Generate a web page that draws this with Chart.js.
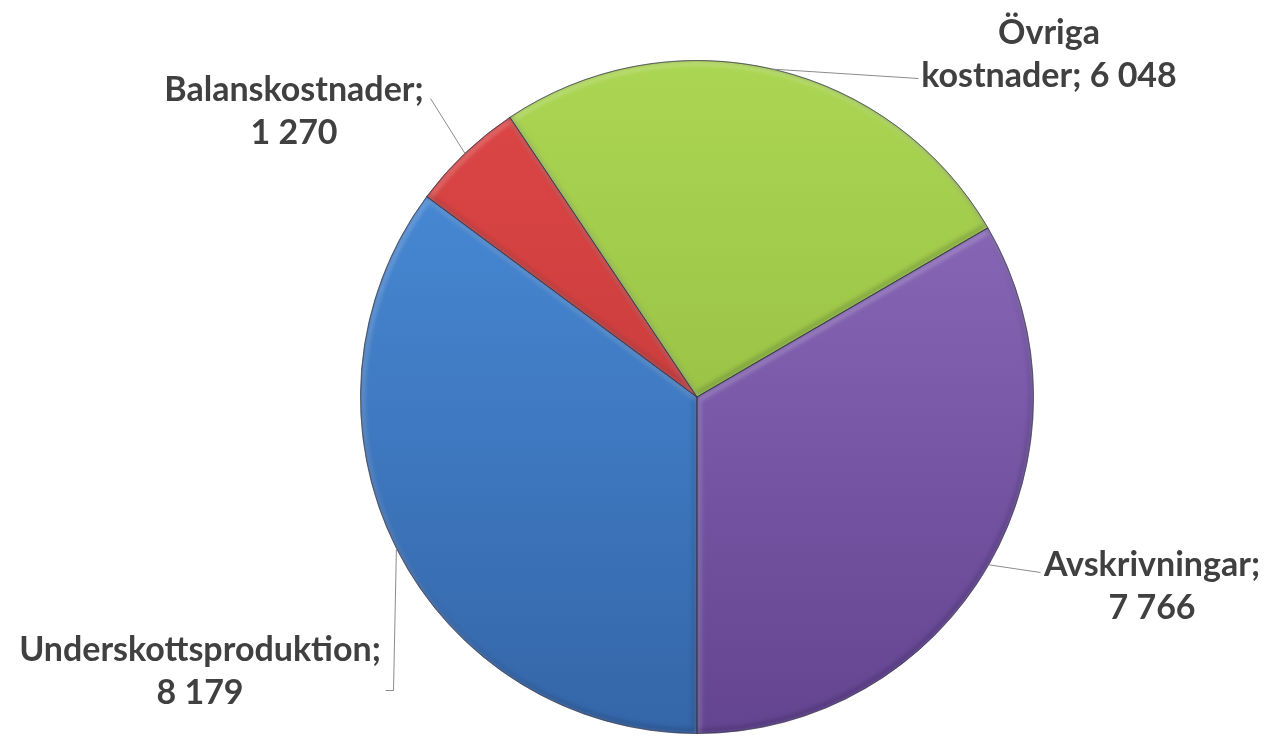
<!DOCTYPE html>
<html>
<head>
<meta charset="utf-8">
<script src="https://cdn.jsdelivr.net/npm/chart.js@4/dist/chart.umd.min.js"></script>
<style>
  html, body { margin: 0; padding: 0; background: #ffffff; }
  #wrap { width: 1268px; height: 739px; }
</style>
</head>
<body>
<div id="wrap"><canvas id="c" width="1268" height="739"></canvas></div>
<script>
// ---- data ----
const categories = ['Underskottsproduktion', 'Balanskostnader', 'Övriga kostnader', 'Avskrivningar'];
const values = [8179, 1270, 6048, 7766];
const labelLines = [
  ['Underskottsproduktion;', '{v}'],
  ['Balanskostnader;', '{v}'],
  ['Övriga', 'kostnader; {v}'],
  ['Avskrivningar;', '{v}']
];
const topColors = ['#4B8FDD', '#DE4746', '#ABD653', '#9270C2'];
const bottomColors = ['#3466A8', '#B83434', '#8AB23A', '#634490'];

// ---- layout for labels (centres of label text blocks, leader-line elbows) ----
const labelLayout = [
  { x: 200, y1: 650, y2: 693, path: [[393, 690], [385, 690]] },
  { x: 294, y1: 90,  y2: 133, path: [[430, 98]] },
  { x: 1049, y1: 33, y2: 76,  path: [[918, 78]] },
  { x: 1152, y1: 565, y2: 608, path: [[1040, 572]] }
];

function fmt(v) {
  return String(v).replace(/\B(?=(\d{3})+(?!\d))/g, ' ');
}

function arcPath(ctx, p) {
  ctx.beginPath();
  ctx.moveTo(p.x, p.y);
  ctx.arc(p.x, p.y, p.outerRadius, p.startAngle, p.endAngle);
  ctx.closePath();
}

const bevelPlugin = {
  id: 'bevel',
  afterDatasetsDraw(chart) {
    const ctx = chart.ctx;
    const meta = chart.getDatasetMeta(0);
    meta.data.forEach((arc) => {
      const p = arc.getProps(['x', 'y', 'startAngle', 'endAngle', 'outerRadius'], true);
      // light inner glow from top-left
      ctx.save();
      arcPath(ctx, p);
      ctx.clip();
      ctx.filter = 'blur(2px)';
      ctx.translate(1.5, 2.5);
      arcPath(ctx, p);
      ctx.lineWidth = 5;
      ctx.strokeStyle = 'rgba(255,255,255,0.22)';
      ctx.stroke();
      ctx.restore();
      // dark inner shade from bottom-right
      ctx.save();
      arcPath(ctx, p);
      ctx.clip();
      ctx.filter = 'blur(2px)';
      ctx.translate(-1.5, -2.5);
      arcPath(ctx, p);
      ctx.lineWidth = 5;
      ctx.strokeStyle = 'rgba(0,0,30,0.18)';
      ctx.stroke();
      ctx.restore();
      // crisp thin outline
      ctx.save();
      arcPath(ctx, p);
      ctx.lineWidth = 1;
      ctx.strokeStyle = 'rgba(40,40,60,0.45)';
      ctx.stroke();
      ctx.restore();
    });
  }
};

const labelPlugin = {
  id: 'pieLabels',
  afterDatasetsDraw(chart) {
    const ctx = chart.ctx;
    const meta = chart.getDatasetMeta(0);
    ctx.save();
    ctx.strokeStyle = '#8c8c8c';
    ctx.lineWidth = 1;
    meta.data.forEach((arc, i) => {
      const p = arc.getProps(['x', 'y', 'startAngle', 'endAngle', 'outerRadius'], true);
      const mid = (p.startAngle + p.endAngle) / 2;
      const ax = p.x + Math.cos(mid) * p.outerRadius;
      const ay = p.y + Math.sin(mid) * p.outerRadius;
      const L = labelLayout[i];
      ctx.beginPath();
      ctx.moveTo(ax, ay);
      L.path.forEach(pt => ctx.lineTo(pt[0] + 0.5, pt[1] + 0.5));
      ctx.stroke();
    });
    ctx.fillStyle = '#404040';
    ctx.font = 'bold 34px Lato, "Open Sans", sans-serif';
    ctx.textAlign = 'center';
    ctx.textBaseline = 'middle';
    labelLines.forEach((lines, i) => {
      const L = labelLayout[i];
      const v = fmt(values[i]);
      ctx.fillText(lines[0].replace('{v}', v), L.x, L.y1);
      ctx.fillText(lines[1].replace('{v}', v), L.x, L.y2);
    });
    ctx.restore();
  }
};

function sliceGradient(context) {
  const chart = context.chart;
  const area = chart.chartArea;
  if (!area) return topColors[context.dataIndex];
  const g = chart.ctx.createLinearGradient(0, area.top, 0, area.bottom);
  g.addColorStop(0, topColors[context.dataIndex]);
  g.addColorStop(1, bottomColors[context.dataIndex]);
  return g;
}

new Chart(document.getElementById('c'), {
  type: 'pie',
  data: {
    labels: categories,
    datasets: [{
      data: values,
      backgroundColor: sliceGradient,
      borderColor: 'rgba(40,40,60,0.45)',
      borderWidth: 1
    }]
  },
  options: {
    responsive: false,
    animation: false,
    rotation: 180,
    layout: { padding: { top: 60, bottom: 5, left: 360, right: 234 } },
    plugins: {
      legend: { display: false },
      tooltip: { enabled: false }
    }
  },
  plugins: [bevelPlugin, labelPlugin]
});
</script>
</body>
</html>
